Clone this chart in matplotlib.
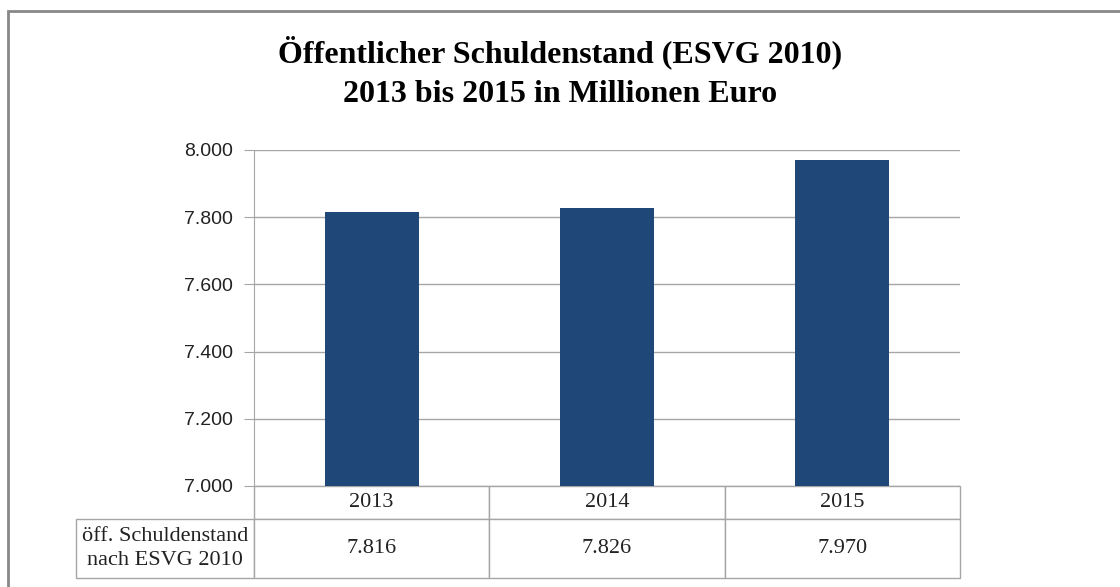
import matplotlib.pyplot as plt
import matplotlib.patches as mpatches
import numpy as np

# data
years = ['2013', '2014', '2015']
schulden = [7816, 7826, 7970]
row_label = 'öff. Schuldenstand\nnach ESVG 2010'
y_ticks = [7000, 7200, 7400, 7600, 7800, 8000]


def de_fmt(v):
    return '{:,.0f}'.format(v).replace(',', '.')


grid_col = '#a6a6a6'
bar_col = '#1f4778'

fig = plt.figure(figsize=(11.2, 5.87), dpi=100)
ax = fig.add_axes([254 / 1120, 1 - 486 / 587, 706 / 1120, 336 / 587])

x = np.arange(len(years))
ax.bar(x, schulden, width=0.4, color=bar_col, zorder=3)
ax.set_xlim(-0.5, len(years) - 0.5)
ax.set_ylim(7000, 8000)
ax.set_yticks(y_ticks)
ax.set_yticklabels([de_fmt(v) for v in y_ticks], fontsize=14,
                   family='Liberation Sans', color='#222222')
ax.set_xticks([])
ax.yaxis.grid(True, color=grid_col, linewidth=1)
ax.set_axisbelow(True)
for s in ['top', 'right', 'bottom']:
    ax.spines[s].set_visible(False)
ax.spines['left'].set_color(grid_col)
ax.tick_params(axis='y', length=7, color=grid_col, pad=8)

# data table under the chart (first column holds the row label)
hdr_h = 33 / 336
row_h = 59 / 336
lab_w = 178 / 706
cells = [[''] + years,
         [row_label] + [de_fmt(v) for v in schulden]]
tbl = ax.table(cellText=cells, cellLoc='center',
               colWidths=[lab_w] + [1 / 3] * len(years),
               bbox=[-lab_w, -(hdr_h + row_h), 1 + lab_w, hdr_h + row_h])
tbl.auto_set_font_size(False)
for (r, c), cell in tbl.get_celld().items():
    cell.set_edgecolor(grid_col)
    cell.set_linewidth(1)
    cell.set_height(hdr_h if r == 0 else row_h)
    txt = cell.get_text()
    txt.set_fontsize(16)
    txt.set_family('Liberation Serif')
    txt.set_color('#222222')
    txt.set_linespacing(1.4)
    if r == 0 and c == 0:
        cell.visible_edges = ''

# title
fig.text(0.5, 1 - 52 / 587, 'Öffentlicher Schuldenstand (ESVG 2010)',
         ha='center', va='center', fontsize=23, fontweight='bold',
         family='Liberation Serif')
fig.text(0.5, 1 - 95 / 587, '2013 bis 2015 in Millionen Euro',
         ha='center', va='center', fontsize=23, fontweight='bold',
         family='Liberation Serif')

# outer frame (cut off at right and bottom)
frame = mpatches.Rectangle((8 / 1120, -0.2), 1.2, 1.2 - 11 / 587,
                           transform=fig.transFigure, fill=False,
                           edgecolor='#888888', linewidth=2, clip_on=False)
fig.add_artist(frame)

fig.savefig('out.png', dpi=100)
